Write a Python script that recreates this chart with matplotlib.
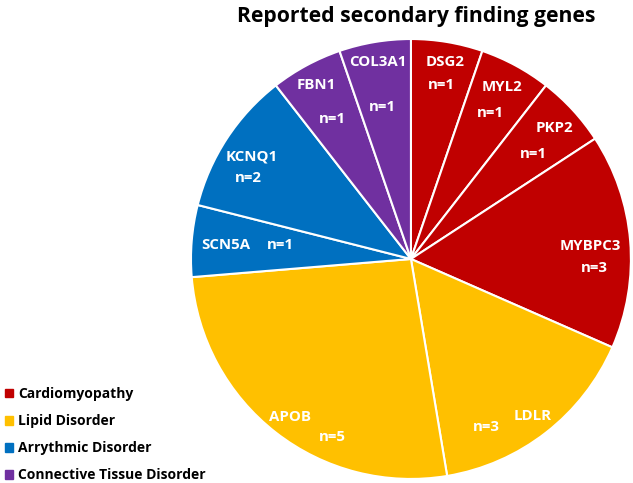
import matplotlib
matplotlib.use("Agg")
import matplotlib.pyplot as plt
import matplotlib.patches as mpatches
import numpy as np

plt.rcParams['font.family'] = ['Open Sans', 'DejaVu Sans']

# data, clockwise from 12 o'clock
genes = ["DSG2", "MYL2", "PKP2", "MYBPC3", "LDLR", "APOB", "SCN5A", "KCNQ1", "FBN1", "COL3A1"]
counts = [1, 1, 1, 3, 3, 5, 1, 2, 1, 1]
group = ["Cardiomyopathy"] * 4 + ["Lipid Disorder"] * 2 + ["Arrythmic Disorder"] * 2 + ["Connective Tissue Disorder"] * 2
groups = ["Cardiomyopathy", "Lipid Disorder", "Arrythmic Disorder", "Connective Tissue Disorder"]
group_colors = ["#C00000", "#FFC000", "#0070C0", "#7030A0"]

cmap = dict(zip(groups, group_colors))
colors = [cmap[g] for g in group]

# label placement: (radius fraction, angle offset from wedge middle in degrees)
name_pos = [(0.91, -0.3), (0.885, 0.5), (0.885, -0.3), (0.816, -0.5), (0.904, -0.1),
            (0.905, 0.5), (0.843, 0.4), (0.861, 0.3), (0.90, 0.0), (0.908, 0.0)]
count_pos = [(0.803, -0.6), (0.755, 0.0), (0.732, -1.9), (0.833, -7.5), (0.836, -13.8),
             (0.885, 14.0), (0.599, -1.4), (0.827, 6.7), (0.731, 1.0), (0.703, 1.3)]

fig = plt.figure(figsize=(6.33, 4.83), dpi=100)
ax = fig.add_axes([0.3017, 0.0083, 0.695, 0.911])
wedges, _ = ax.pie(counts, colors=colors, startangle=90, counterclock=False,
                   wedgeprops=dict(edgecolor="white", linewidth=1.5))
ax.set_xlim(-1, 1)
ax.set_ylim(-1, 1)
ax.set_aspect("equal")

kw = dict(color="white", fontsize=10.8, fontweight="bold", ha="center", va="center")
for w, name, n, npos, cpos in zip(wedges, genes, counts, name_pos, count_pos):
    mid = (w.theta1 + w.theta2) / 2
    for txt, (r, d) in ((name, npos), ("n=%d" % n, cpos)):
        a = np.deg2rad(mid + d)
        ax.text(r * np.cos(a), r * np.sin(a), txt, **kw)

fig.text(0.658, 0.966, "Reported secondary finding genes", ha="center", va="center",
         fontsize=15.2, fontweight="bold")

handles = [mpatches.Patch(color=c, label=g) for g, c in zip(groups, group_colors)]
fig.legend(handles=handles, loc="lower left", bbox_to_anchor=(-0.007, -0.019), frameon=False,
           prop=dict(size=10, weight="bold"), handlelength=0.55, handleheight=0.6,
           handletextpad=0.4, labelspacing=0.95, borderaxespad=0.3)

fig.savefig("out.png", dpi=100)
